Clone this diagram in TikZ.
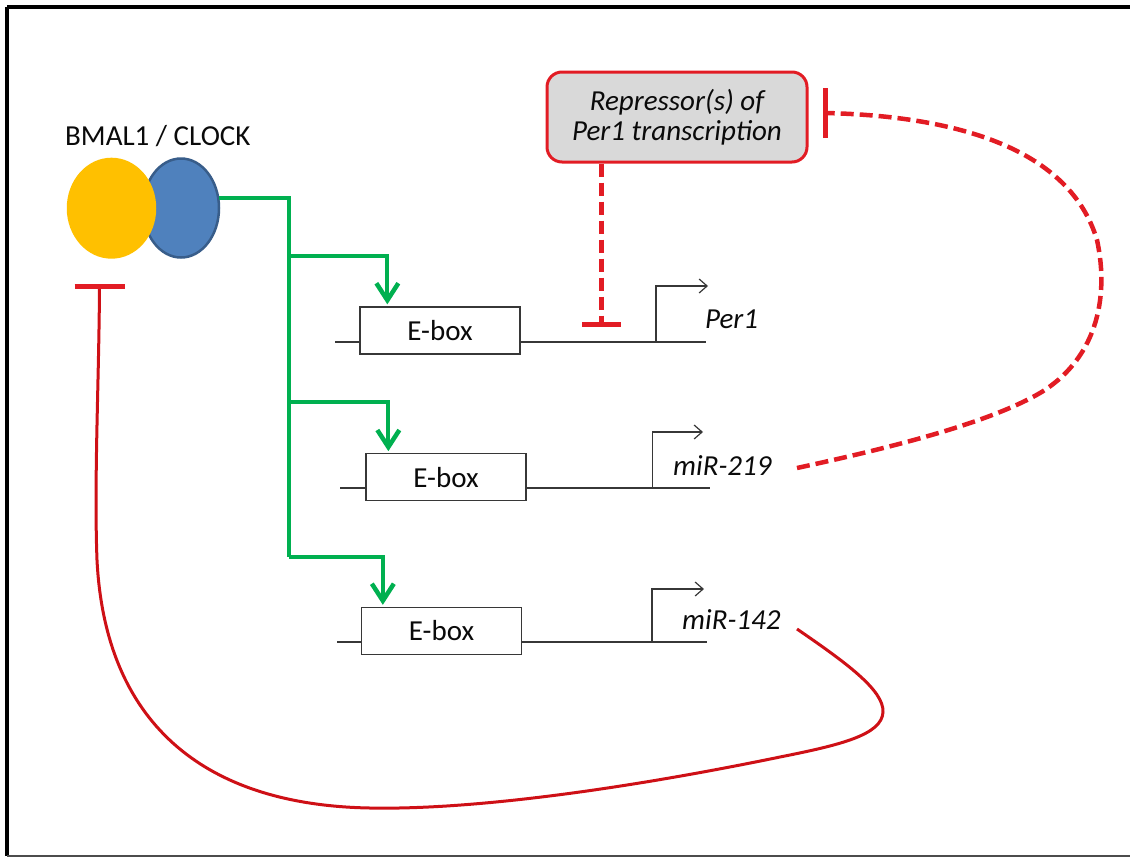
\documentclass[tikz,border=0pt]{standalone}
\usepackage{fontspec}
\setmainfont{Carlito}
\usetikzlibrary{arrows.meta,shapes.geometric}

\definecolor{cgreen}{RGB}{0,176,80}
\definecolor{cyellow}{RGB}{255,192,0}
\definecolor{cblue}{RGB}{79,129,189}
\definecolor{cblueline}{RGB}{56,93,138}
\definecolor{cred}{RGB}{226,28,36}
\definecolor{cdarkred}{RGB}{206,16,22}
\definecolor{cgray}{RGB}{217,217,217}
\definecolor{cline}{RGB}{55,55,55}
\definecolor{ctext}{RGB}{10,10,10}

\begin{document}
\begin{tikzpicture}[x=1pt,y=-1pt,
  lbl/.style={font=\fontsize{29}{30}\selectfont, inner sep=0pt, text=ctext},
  genelbl/.style={lbl, font=\fontsize{29}{30}\selectfont\itshape, anchor=base west},
  eboxnode/.style={draw=cline, line width=1.3pt, fill=white, minimum width=160pt,
    minimum height=47pt, inner sep=0pt, font=\fontsize{29}{30}\selectfont, text=ctext},
  geneline/.style={draw=cline, line width=1.3pt},
  promoter/.style={draw=cline, line width=1.5pt, -{Straight Barb[length=8pt,width=14pt,line width=1.2pt]}},
  activ/.style={draw=cgreen, line width=4pt, line join=miter},
  activtip/.style={activ, -{Straight Barb[length=17pt,width=22pt,line width=4.5pt]}},
  inhib/.style={draw=cred, line width=4.5pt, dash pattern=on 13pt off 6pt},
  inhibsolid/.style={draw=cdarkred, line width=3pt},
  tbar/.style={draw=cred, line width=5pt},
  repbox/.style={draw=cred, line width=3pt, fill=cgray, rounded corners=15pt,
    minimum width=260pt, minimum height=90pt, align=center, inner sep=0pt,
    font=\fontsize{29}{30}\selectfont\itshape, text=ctext}
]
\useasboundingbox (0,0) rectangle (1130,857);

% outer frame
\draw[line width=4pt, black] (7,6.5) -- (7,855.5);
\draw[line width=4pt, black] (7,6.5) -- (1136,6.5);
\draw[line width=2.5pt, black!70] (7,855.8) -- (1136,855.8);

% BMAL1 / CLOCK heterodimer
\node[lbl, anchor=base west] (dimerlbl) at (65,145.5) {BMAL1 / CLOCK};
\node[ellipse, fill=cblue, draw=cblueline, line width=2.5pt, minimum width=76pt,
  minimum height=99pt, inner sep=0pt] (clock) at (181,208) {};
\node[ellipse, fill=cyellow, minimum width=89.5pt, minimum height=101pt,
  inner sep=0pt] (bmal) at (111.5,208.2) {};

% gene loci: DNA line, E-box, promoter
\draw[geneline] (335,342) -- (706,342);
\draw[geneline] (340,488) -- (710,488);
\draw[geneline] (337,642) -- (707,642);

\node[eboxnode] (ebox1) at (440,330.5) {E-box};
\node[eboxnode] (ebox2) at (446,477.3) {E-box};
\node[eboxnode] (ebox3) at (441.5,631) {E-box};

\draw[promoter] (606,342) -- (656,342) -- (656,286) -- (708,286);
\draw[promoter] (602,488) -- (652.5,488) -- (652.5,432) -- (703,432);
\draw[promoter] (602,642) -- (652,642) -- (652,589) -- (704,589);

\node[genelbl] (per1) at (705,328) {Per1};
\node[genelbl] (mir219) at (673,475) {miR-219};
\node[genelbl] (mir142) at (682,629) {miR-142};

% transcriptional activation by the dimer
\draw[activ] (clock.15) -| (289,557);
\draw[activtip] (289,255.5) -| ([xshift=28pt,yshift=2pt]ebox1.north west);
\draw[activtip] (289,401.5) -| ([xshift=23pt,yshift=2pt]ebox2.north west);
\draw[activtip] (289,557) -| ([xshift=22pt,yshift=2pt]ebox3.north west);

% repressor of Per1
\node[repbox] (rep) at (677,117) {Repressor(s) of\\Per1 transcription};

\coordinate (barper1) at (601.5,324);
\draw[inhib] (rep.south -| barper1) -- (barper1);
\draw[tbar] ([xshift=-19.5pt]barper1) -- ([xshift=19.5pt]barper1);

% miR-219 feedback onto the repressor
\coordinate (from219) at (797,468);
\coordinate (barrep) at (825,113);
\draw[inhib] (from219)
  .. controls (880,450) and (985,425) .. (1040,393)
  .. controls (1095,360) and (1110,300) .. (1097,240)
  .. controls (1070,150) and (960,116) .. (barrep);
\draw[tbar] ([yshift=-25pt]barrep) -- ([yshift=25pt]barrep);

% miR-142 feedback onto BMAL1 / CLOCK
\coordinate (from142) at (797,629);
\coordinate (barbmal) at (99.5,286);
\draw[inhibsolid] (from142)
  .. controls (845,662) and (884,690) .. (883,712)
  .. controls (882,735) and (840,745) .. (780,757)
  .. controls (620,790) and (470,810) .. (370,808)
  .. controls (200,805) and (105,720) .. (97,560)
  .. controls (94,480) and (99,380) .. (barbmal);
\draw[tbar] ([xshift=-25pt]barbmal) -- ([xshift=25pt]barbmal);
\end{tikzpicture}
\end{document}
